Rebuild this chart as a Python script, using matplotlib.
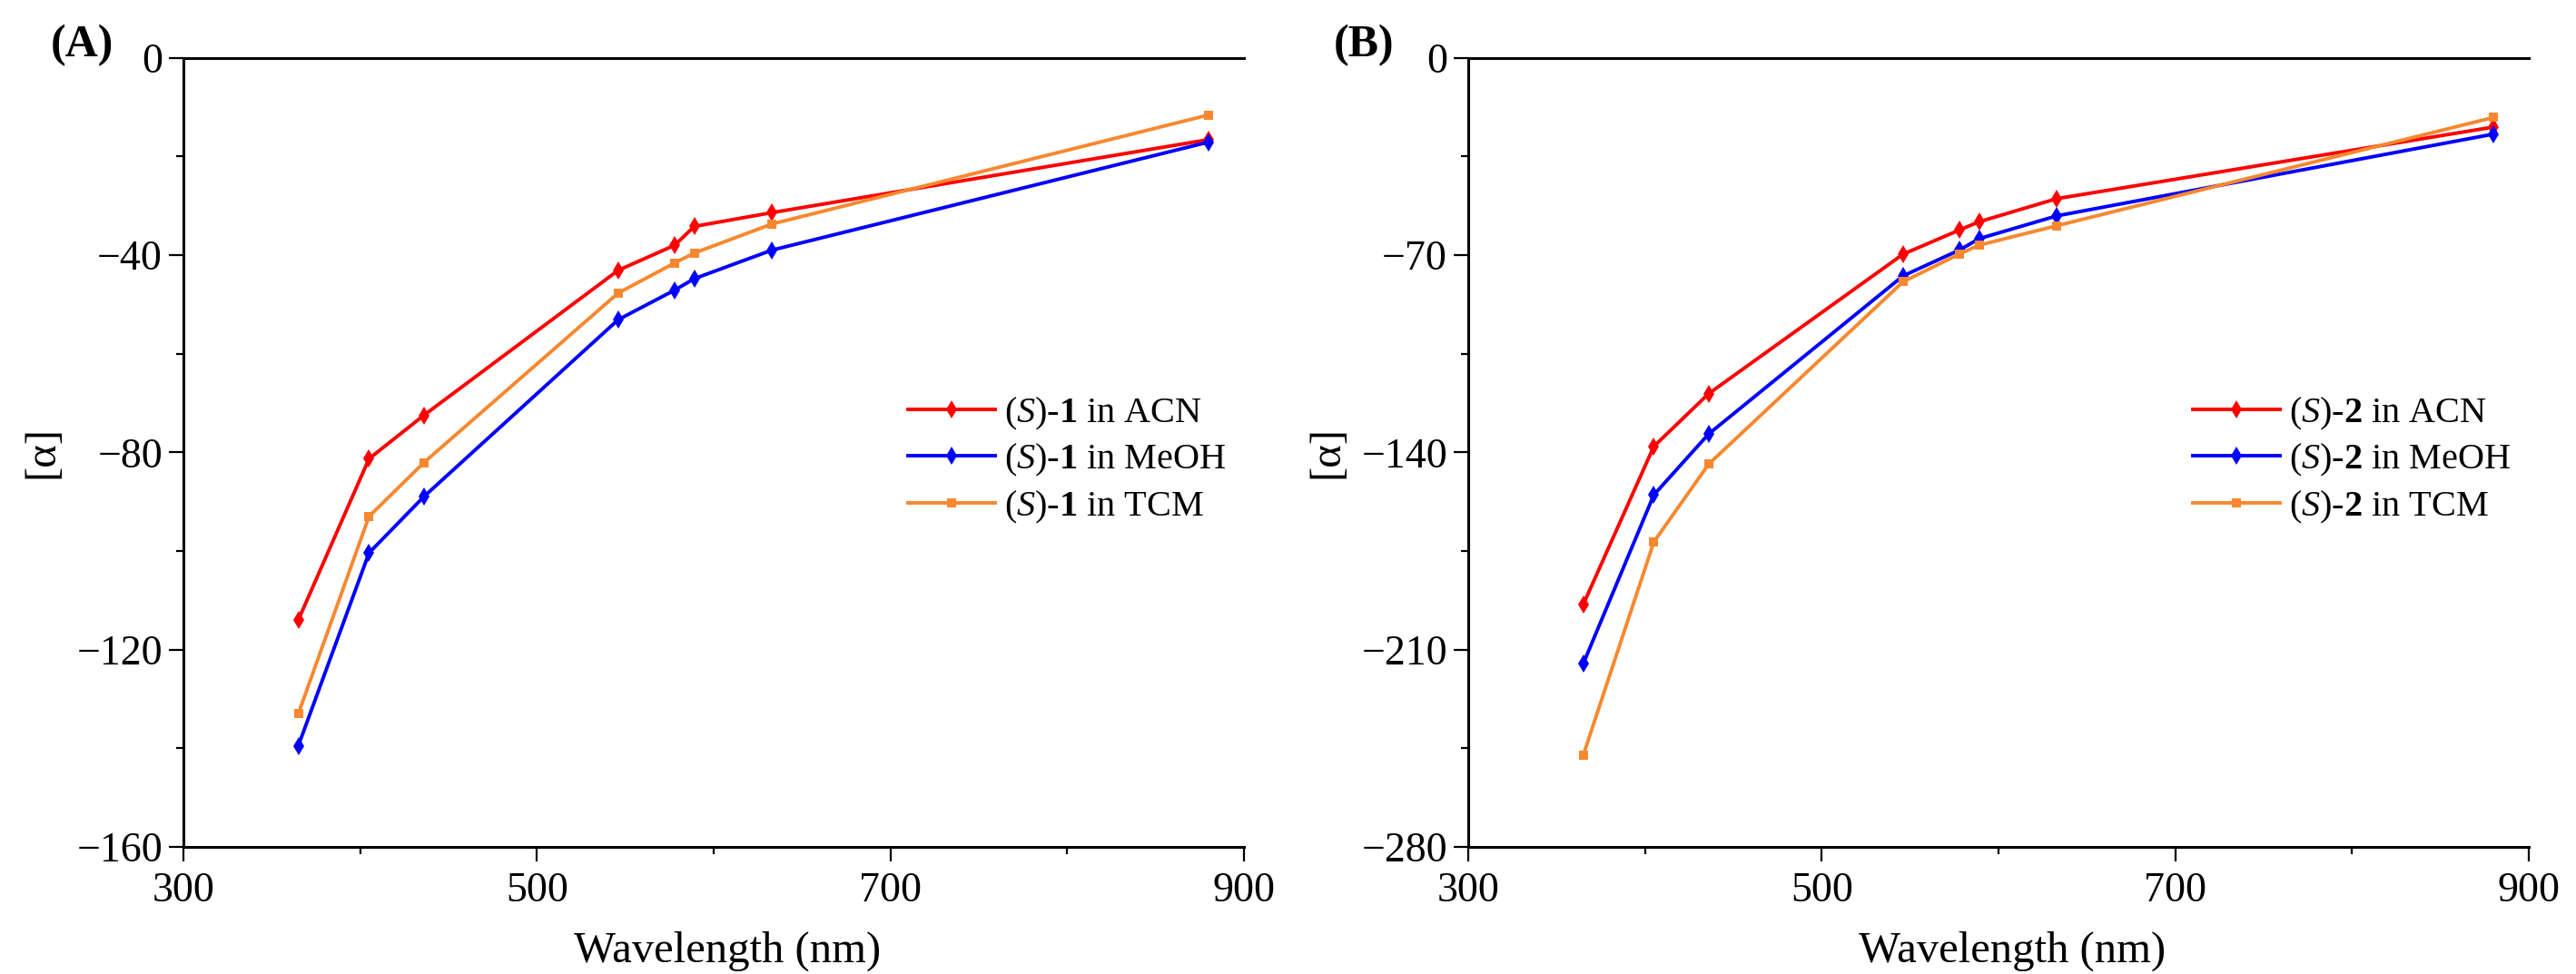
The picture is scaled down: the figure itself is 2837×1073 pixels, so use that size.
import matplotlib
matplotlib.use("Agg")
import matplotlib.pyplot as plt
from matplotlib.ticker import MultipleLocator

plt.rcParams['font.family'] = ['Liberation Serif', 'DejaVu Serif']
plt.rcParams['mathtext.fontset'] = 'custom'
plt.rcParams['mathtext.rm'] = 'Liberation Serif'
plt.rcParams['mathtext.it'] = 'Liberation Serif:italic'
plt.rcParams['mathtext.bf'] = 'Liberation Serif:bold'

# ---- data ----
wavelength = [365, 405, 436, 546, 578, 589, 633, 880]

s1_acn = [-114.0, -81.3, -72.5, -43.1, -38.0, -34.2, -31.4, -16.6]
s1_meoh = [-139.5, -100.4, -89.0, -53.1, -47.1, -44.8, -39.0, -17.1]
s1_tcm = [-133.0, -93.0, -82.1, -47.7, -41.6, -39.6, -33.7, -11.6]

s2_acn = [-194.1, -137.9, -119.2, -69.7, -61.1, -58.2, -50.0, -24.6]
s2_meoh = [-215.1, -155.1, -133.5, -77.4, -68.2, -64.2, -56.1, -27.1]
s2_tcm = [-247.6, -171.8, -144.2, -79.5, -69.6, -66.5, -59.6, -21.2]

solvents = ['ACN', 'MeOH', 'TCM']
x_ticks = [300, 500, 700, 900]
yticks_a = [0, -40, -80, -120, -160]
yticks_b = [0, -70, -140, -210, -280]

colors = ['#FF0000', '#0000FF', '#F7882F']
markers = ['d', 'd', 's']
msizes = [10, 10, 7]

W, H = 2837, 1073
fig = plt.figure(figsize=(W / 100, H / 100), dpi=100)

panels = [
    dict(rect=[202 / W, 1 - 933 / H, 1168 / W, 869.4 / H], series=[s1_acn, s1_meoh, s1_tcm],
         yticks=yticks_a, minor=20, cmpd='1', tag='(A)', tagx=90 / W),
    dict(rect=[1617 / W, 1 - 933 / H, 1168 / W, 869.4 / H], series=[s2_acn, s2_meoh, s2_tcm],
         yticks=yticks_b, minor=35, cmpd='2', tag='(B)', tagx=1502 / W),
]

for p in panels:
    ax = fig.add_axes(p['rect'])
    for vals, solv, c, m, ms in zip(p['series'], solvents, colors, markers, msizes):
        lab = r'($\mathit{S}$)-$\mathbf{' + p['cmpd'] + r'}$ in ' + solv
        ax.plot(wavelength, vals, color=c, marker=m, markersize=ms, linewidth=2.8,
                markeredgewidth=0, label=lab, clip_on=False)
    ax.set_xlim(x_ticks[0], x_ticks[-1])
    ax.set_ylim(p['yticks'][-1], p['yticks'][0])
    ax.set_xticks(x_ticks)
    ax.set_yticks(p['yticks'])
    ax.xaxis.set_minor_locator(MultipleLocator(100))
    ax.yaxis.set_minor_locator(MultipleLocator(p['minor']))
    ax.spines['right'].set_visible(False)
    for s in ['left', 'bottom', 'top']:
        ax.spines[s].set_linewidth(2.2)
    ax.tick_params(which='major', direction='out', length=11.5, width=1.6, labelsize=33,
                   top=False, right=False)
    ax.tick_params(axis='x', which='major', pad=8)
    ax.tick_params(axis='y', which='major', pad=5)
    ax.tick_params(which='minor', direction='out', length=6, width=1.6, top=False, right=False)
    ax.set_xlabel('Wavelength (nm)', fontsize=35)
    ax.xaxis.set_label_coords(0.513, -0.106)
    ax.xaxis.label.set_va('top')
    ax.set_ylabel('[α]', fontsize=35)
    ax.yaxis.set_label_coords(-0.133, 0.5)
    ax.yaxis.label.set_va('center')
    ax.legend(loc='center left', bbox_to_anchor=(0.683, 0.49), frameon=False, fontsize=29,
              handlelength=2.4, handletextpad=0.25, labelspacing=0.28, borderpad=0, borderaxespad=0)
    fig.text(p['tagx'], 1 - 50 / H, p['tag'], fontsize=36, fontweight='bold', ha='center', va='center')

fig.savefig('out.png', dpi=100)
